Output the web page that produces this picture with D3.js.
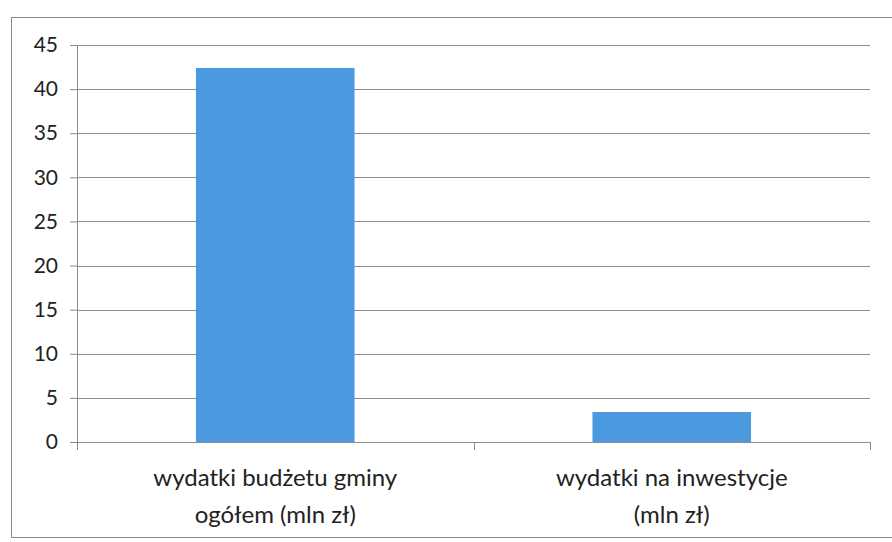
<!DOCTYPE html>
<html>
<head>
<meta charset="utf-8">
<script src="https://cdn.jsdelivr.net/npm/d3@7"></script>
<style>
    body { margin: 0; background: #fff; }
    text { font-family: Lato, "Open Sans", sans-serif; fill: #222; }
</style>
</head>
<body>
<div id="wrapper"></div>
<script>
const categories = [
    ["wydatki budżetu gminy", "ogółem (mln zł)"],
    ["wydatki na inwestycje", "(mln zł)"],
]
const values = [42.4, 3.4]
const yTicks = [0, 5, 10, 15, 20, 25, 30, 35, 40, 45]

async function drawChart() {

    // 1. dimensions
    let dimensions = {
        width: 892,
        height: 542,
        margin: { top: 45, right: 22, bottom: 100, left: 77 },
    }
    dimensions.boundedWidth = dimensions.width - dimensions.margin.left - dimensions.margin.right
    dimensions.boundedHeight = dimensions.height - dimensions.margin.top - dimensions.margin.bottom

    // 2. canvas
    const wrapper = d3.select("#wrapper")
        .append("svg")
        .attr("width", dimensions.width)
        .attr("height", dimensions.height)

    // outer frame of the chart (right side runs off the picture)
    wrapper.append("rect")
        .attr("x", 11.5)
        .attr("y", 17.5)
        .attr("width", 900)
        .attr("height", 520)
        .attr("fill", "none")
        .attr("stroke", "#8a8a8a")

    const bounds = wrapper.append("g")
        .attr("transform", `translate(${dimensions.margin.left},${dimensions.margin.top})`)

    // 3. scales
    const xScale = d3.scaleBand()
        .domain(d3.range(categories.length))
        .range([0, dimensions.boundedWidth])
        .paddingInner(0.6)
        .paddingOuter(0.3)

    const yScale = d3.scaleLinear()
        .domain([0, 45])
        .range([dimensions.boundedHeight, 0])

    // 4. gridlines
    bounds.append("g")
        .selectAll("line")
        .data(yTicks)
        .join("line")
        .attr("x1", 0)
        .attr("x2", dimensions.boundedWidth)
        .attr("y1", d => Math.round(yScale(d)) + 0.5)
        .attr("y2", d => Math.round(yScale(d)) + 0.5)
        .attr("stroke", "#8c8c8c")

    // 5. bars
    bounds.selectAll(".bar")
        .data(values)
        .join("rect")
        .attr("class", "bar")
        .attr("x", (d, i) => xScale(i))
        .attr("width", xScale.bandwidth())
        .attr("y", d => yScale(d))
        .attr("height", d => dimensions.boundedHeight - yScale(d))
        .attr("fill", "#4b99de")

    // 6. axes
    const yAxis = d3.axisLeft(yScale)
        .tickValues(yTicks)
        .tickSize(7)
        .tickPadding(12)
    const yAxisGroup = bounds.append("g").call(yAxis)
    yAxisGroup.select(".domain").attr("stroke", "#8c8c8c")
        .attr("d", `M0.5,${dimensions.boundedHeight + 8}V0`)
    yAxisGroup.selectAll(".tick line").attr("stroke", "#8c8c8c")
    yAxisGroup.selectAll(".tick text")
        .style("font-size", "21px")
        .style("font-family", "Lato, 'Open Sans', sans-serif")
        .attr("fill", "#222")

    // x axis baseline with category separators
    const separators = d3.range(categories.length + 1).map(i => i * dimensions.boundedWidth / categories.length)
    bounds.append("g")
        .selectAll("line")
        .data(separators)
        .join("line")
        .attr("x1", d => Math.round(d) + 0.5)
        .attr("x2", d => Math.round(d) + 0.5)
        .attr("y1", dimensions.boundedHeight)
        .attr("y2", dimensions.boundedHeight + 8)
        .attr("stroke", "#8c8c8c")

    // category labels
    const labels = bounds.append("g")
        .selectAll("text")
        .data(categories)
        .join("text")
        .attr("x", (d, i) => xScale(i) + xScale.bandwidth() / 2)
        .attr("y", dimensions.boundedHeight + 44)
        .attr("text-anchor", "middle")
        .style("font-size", "24px")

    labels.selectAll("tspan")
        .data(d => d)
        .join("tspan")
        .attr("x", function () { return this.parentNode.getAttribute("x") })
        .attr("dy", (d, i) => i === 0 ? 0 : 37)
        .text(d => d)
}

drawChart()
</script>
</body>
</html>
